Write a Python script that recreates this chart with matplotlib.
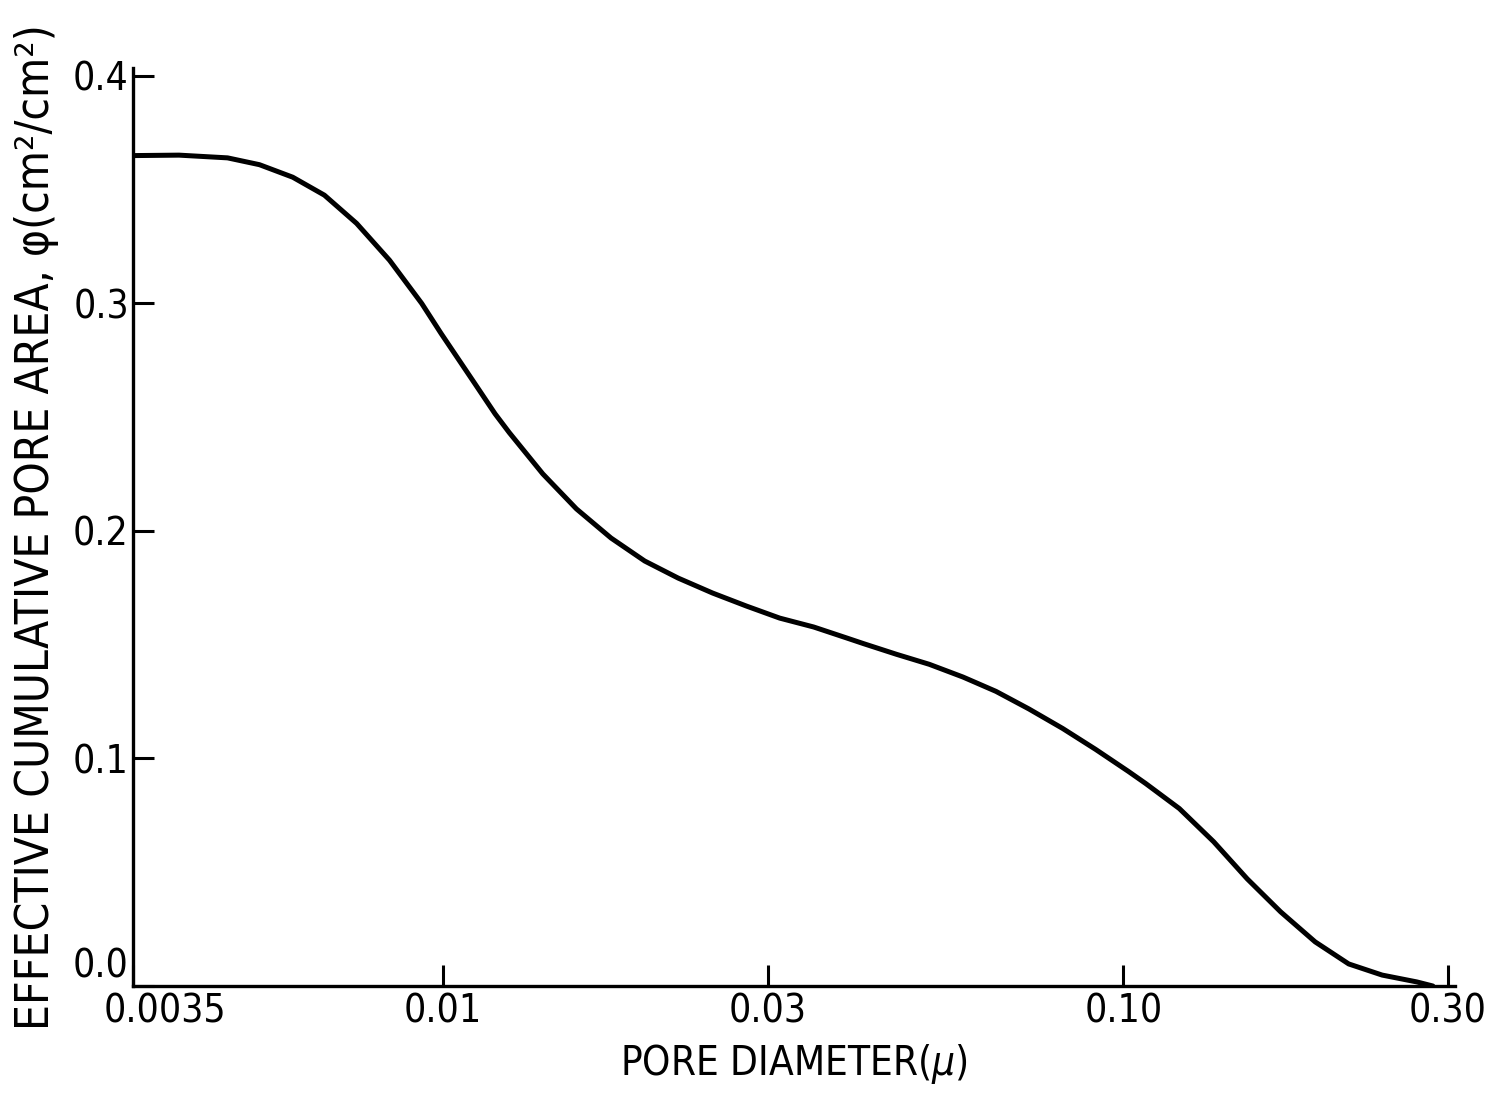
import matplotlib
matplotlib.use("Agg")
import matplotlib.pyplot as plt
import matplotlib.ticker as tkr
import matplotlib.transforms as mtrans

# pore diameter (micron) and effective cumulative pore area
diameter = [0.0035, 0.00409, 0.00482, 0.00537, 0.00601, 0.00669, 0.00746,
            0.00834, 0.00930, 0.00993, 0.01113, 0.01192, 0.01251, 0.01401,
            0.01570, 0.01765, 0.01978, 0.02215, 0.02490, 0.02791, 0.03124,
            0.03504, 0.03916, 0.04147, 0.04637, 0.05182, 0.05809, 0.06495,
            0.07258, 0.08139, 0.09100, 0.1017, 0.1078, 0.1208, 0.1357,
            0.1520, 0.1702, 0.1913, 0.2143, 0.2400, 0.2698, 0.2849]
area = [0.365, 0.3652, 0.3640, 0.3610, 0.3555, 0.3476, 0.3352,
        0.319, 0.300, 0.2868, 0.2648, 0.2515, 0.2432, 0.2251,
        0.2097, 0.1969, 0.1868, 0.1793, 0.1727, 0.1670, 0.1617,
        0.1578, 0.1530, 0.1505, 0.1458, 0.1414, 0.1358, 0.1295,
        0.1218, 0.1132, 0.104, 0.0943, 0.089, 0.078, 0.0634,
        0.0471, 0.0326, 0.0194, 0.0097, 0.0048, 0.0018, 0.0]

x_ticks = [0.0035, 0.01, 0.03, 0.10, 0.30]
x_tick_labels = ['0.0035', '0.01', '0.03', '0.10', '0.30']
y_ticks = [0.0, 0.1, 0.2, 0.3, 0.4]

plt.rcParams['font.family'] = ['DejaVu Sans']
plt.rcParams['font.stretch'] = 'condensed'
plt.rcParams['mathtext.fontset'] = 'dejavusans'

fig = plt.figure(figsize=(15, 10.93), dpi=100)
ax = fig.add_axes([133 / 1500, 107 / 1093, (1455 - 133) / 1500, (986 - 68) / 1093])

ax.plot(diameter, area, color='black', lw=3.6, solid_joinstyle='round',
        solid_capstyle='round')

ax.set_xscale('log')
ax.set_xlim(0.0035, 0.3071)
ax.set_ylim(0, 0.4035)

ax.set_xticks(x_ticks)
ax.set_xticklabels(x_tick_labels)
ax.xaxis.set_minor_locator(tkr.NullLocator())
ax.set_yticks(y_ticks)
ax.yaxis.set_major_formatter(tkr.FuncFormatter(lambda v, p: f'{v:.1f}'))

for s in ['top', 'right']:
    ax.spines[s].set_visible(False)
for s in ['left', 'bottom']:
    ax.spines[s].set_linewidth(2.4)

ax.tick_params(axis='both', direction='in', length=15, width=2.2,
               labelsize=28, pad=5)
ax.tick_params(axis='y', pad=3)

# first x label sits to the right of the corner, 0.0 sits above its tick
lbl = ax.get_xticklabels()[0]
lbl.set_transform(lbl.get_transform() +
                  mtrans.ScaledTranslation(0.32, 0, fig.dpi_scale_trans))
ax.get_yticklabels()[0].set_va('bottom')

ax.set_xlabel('PORE DIAMETER($\\mu$)', fontsize=29, labelpad=8)
ax.set_ylabel('EFFECTIVE CUMULATIVE PORE AREA, \u03c6(cm\u00b2/cm\u00b2)',
              fontsize=33, labelpad=10)

fig.savefig('out.png', dpi=100)
